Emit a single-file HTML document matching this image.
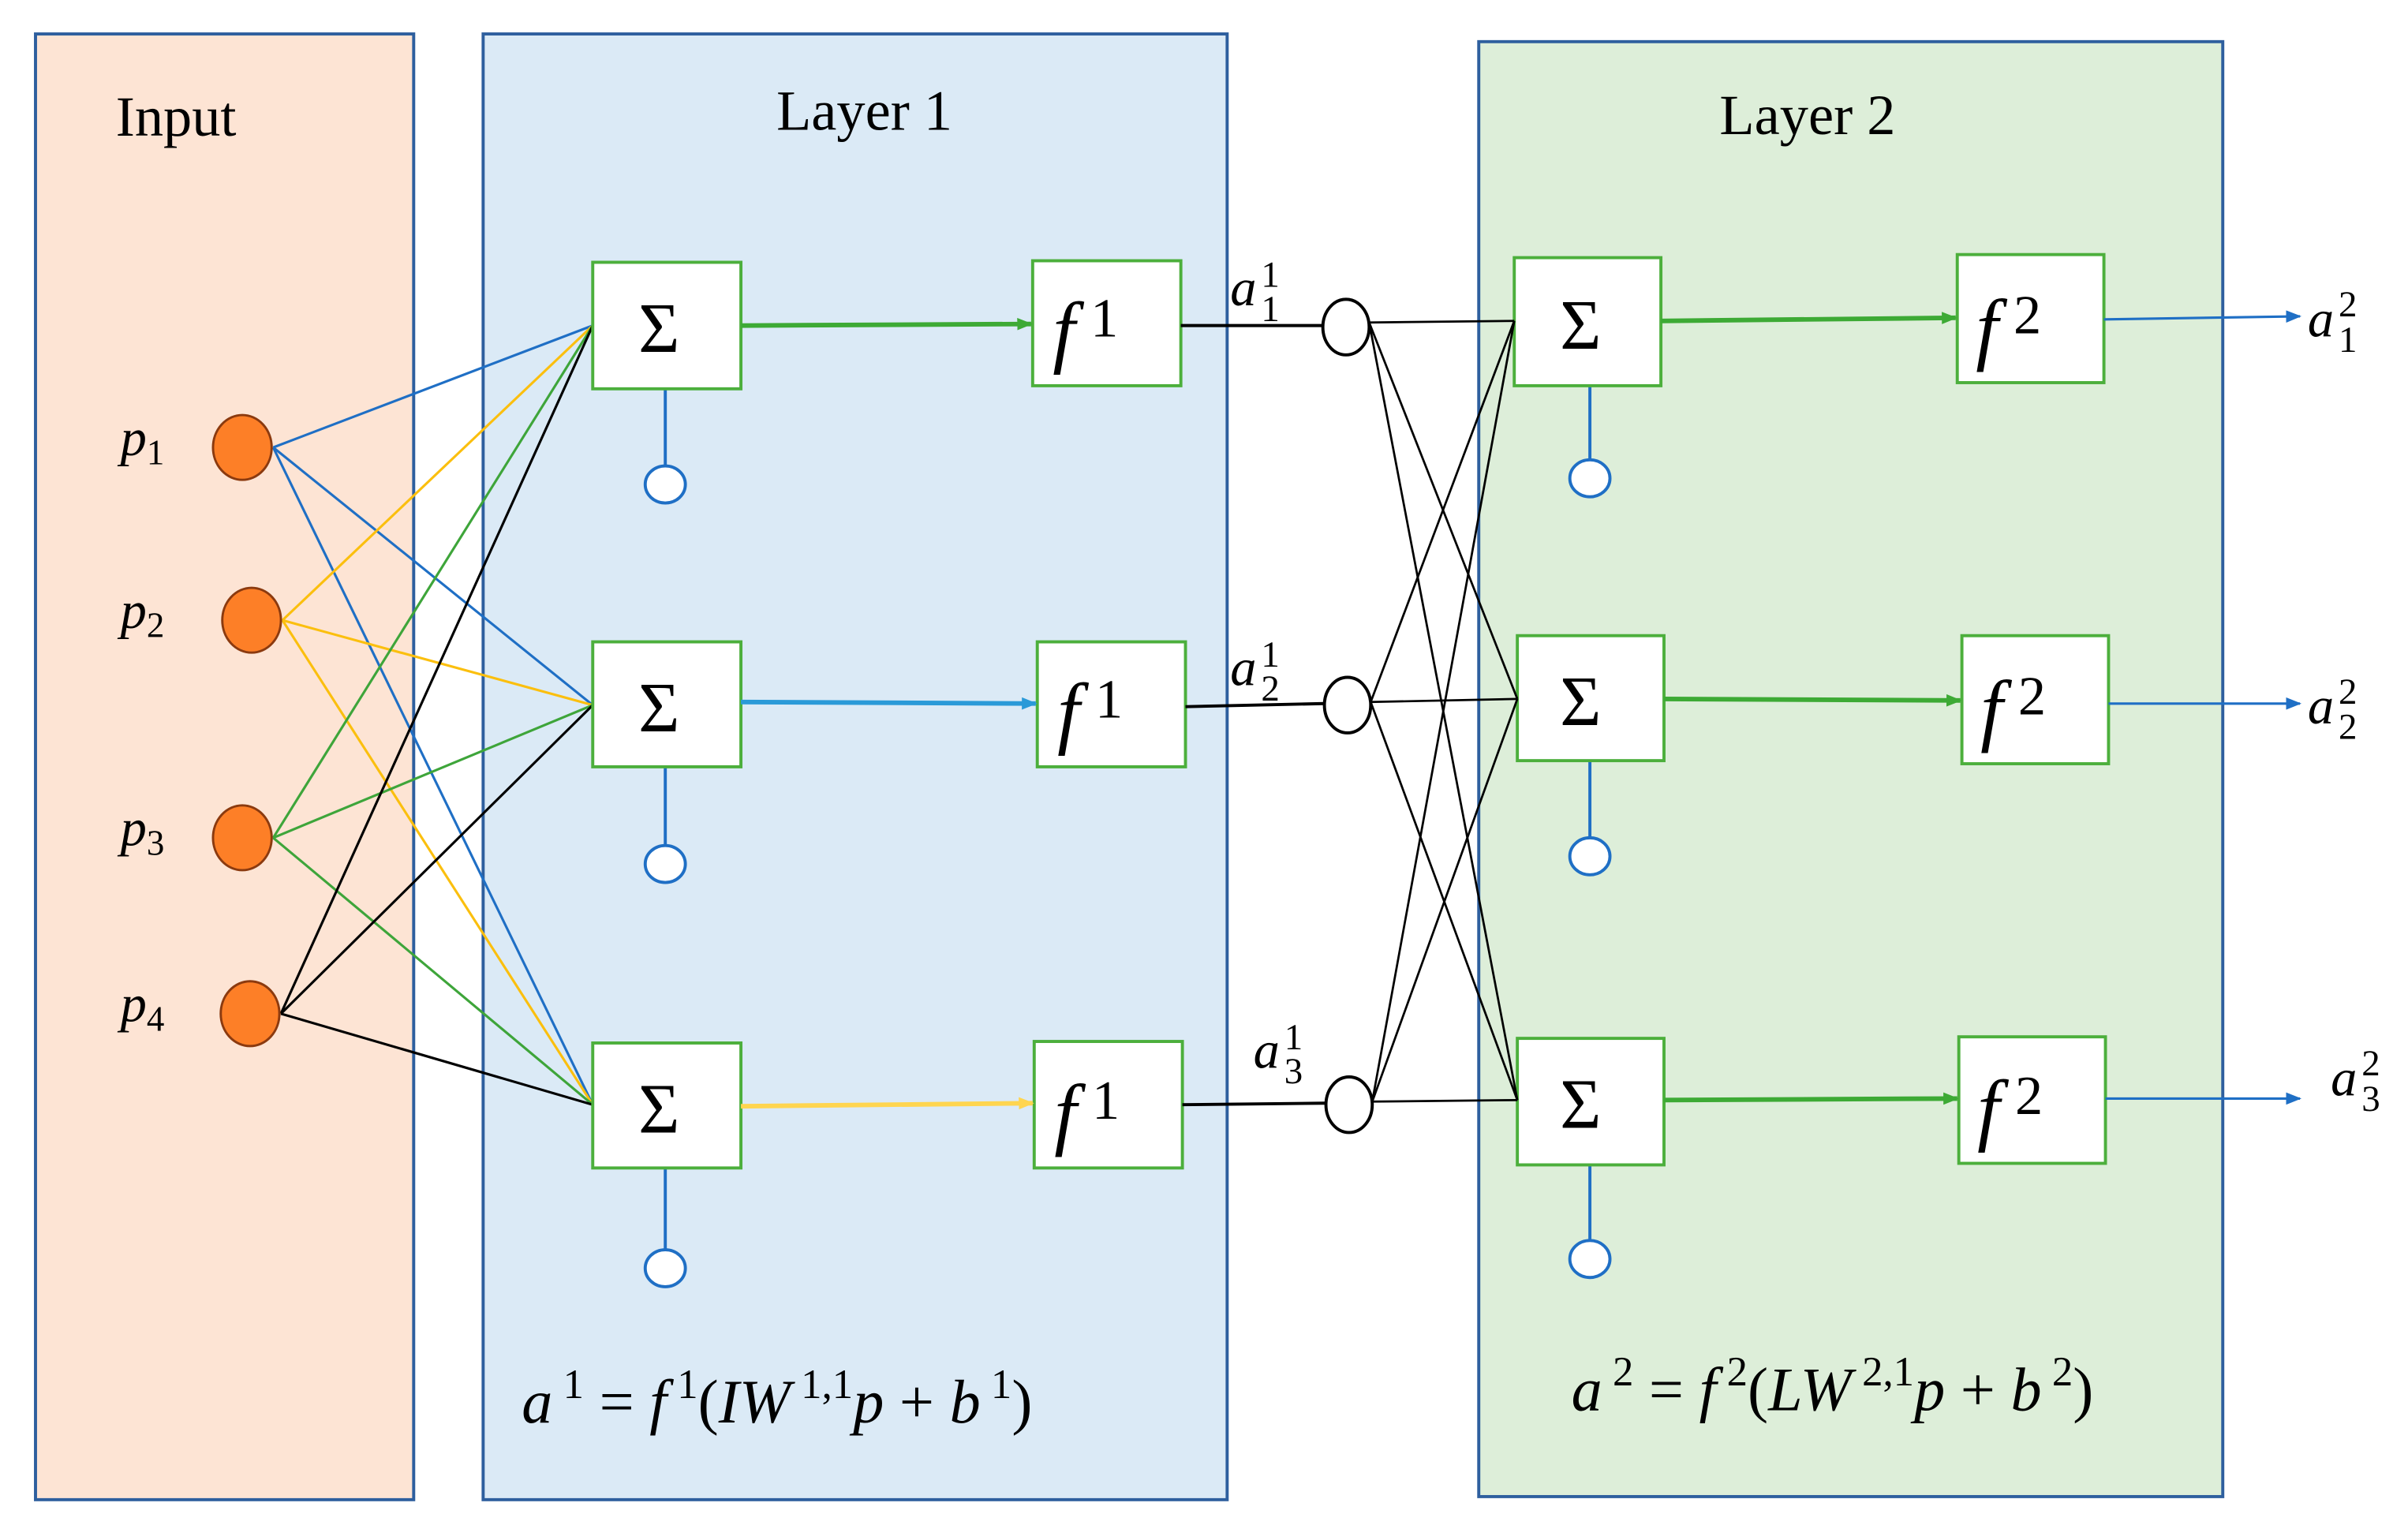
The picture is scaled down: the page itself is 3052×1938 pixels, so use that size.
<!DOCTYPE html>
<html><head><meta charset="utf-8"><style>
html,body{margin:0;padding:0;background:#fff}
svg{display:block}
text{font-family:"Liberation Serif",serif}
.it{font-style:italic}
</style></head><body>
<svg width="3052" height="1938" viewBox="0 0 1560 991" preserveAspectRatio="none" xmlns="http://www.w3.org/2000/svg">
<defs>
<marker id="ag" markerWidth="10" markerHeight="8" refX="9" refY="4" orient="auto" markerUnits="userSpaceOnUse"><path d="M0,0 L10,4 L0,8 z" fill="#3daa35"/></marker>
<marker id="ab" markerWidth="10" markerHeight="8" refX="9" refY="4" orient="auto" markerUnits="userSpaceOnUse"><path d="M0,0 L10,4 L0,8 z" fill="#2a9ad8"/></marker>
<marker id="ay" markerWidth="10" markerHeight="8" refX="9" refY="4" orient="auto" markerUnits="userSpaceOnUse"><path d="M0,0 L10,4 L0,8 z" fill="#ffd54f"/></marker>
<marker id="ao" markerWidth="10" markerHeight="8" refX="9" refY="4" orient="auto" markerUnits="userSpaceOnUse"><path d="M0,0 L10,4 L0,8 z" fill="#1f6fc5"/></marker>
</defs>
<rect x="23" y="22" width="245" height="950" fill="#fde4d4" stroke="#2e5f9e" stroke-width="2"/>
<rect x="313" y="22" width="482" height="950" fill="#dbeaf6" stroke="#2e5f9e" stroke-width="2"/>
<rect x="958" y="27" width="482" height="943" fill="#ddeed9" stroke="#2e5f9e" stroke-width="2"/>
<text x="75" y="88" font-size="37">Input</text>
<text x="503" y="84" font-size="37">Layer 1</text>
<text x="1114" y="87" font-size="37">Layer 2</text>

<g stroke-width="1.6" fill="none">
<g stroke="#1f6fc5"><line x1="177" y1="290" x2="384" y2="211"/><line x1="177" y1="290" x2="384" y2="457"/><line x1="177" y1="290" x2="384" y2="716"/></g>
<g stroke="#fbbf0e"><line x1="183" y1="402" x2="384" y2="211"/><line x1="183" y1="402" x2="384" y2="457"/><line x1="183" y1="402" x2="384" y2="716"/></g>
<g stroke="#3ea53a"><line x1="177" y1="543" x2="384" y2="211"/><line x1="177" y1="543" x2="384" y2="457"/><line x1="177" y1="543" x2="384" y2="716"/></g>
<g stroke="#000"><line x1="182" y1="657" x2="384" y2="211"/><line x1="182" y1="657" x2="384" y2="457"/><line x1="182" y1="657" x2="384" y2="716"/></g>
</g>
<g fill="#fd7f27" stroke="#8b3a0f" stroke-width="1.5">
<ellipse cx="157" cy="290" rx="19" ry="21"/><ellipse cx="163" cy="402" rx="19" ry="21"/><ellipse cx="157" cy="543" rx="19" ry="21"/><ellipse cx="162" cy="657" rx="19" ry="21"/>
</g>
<g font-size="34">
<text x="78" y="295"><tspan class="it">p</tspan><tspan font-size="23" dy="6">1</tspan></text>
<text x="78" y="407"><tspan class="it">p</tspan><tspan font-size="23" dy="6">2</tspan></text>
<text x="78" y="548"><tspan class="it">p</tspan><tspan font-size="23" dy="6">3</tspan></text>
<text x="78" y="662"><tspan class="it">p</tspan><tspan font-size="23" dy="6">4</tspan></text>
</g>

<g stroke="#1f6fc5" stroke-width="2" fill="#fff">
<line x1="431" y1="252" x2="431" y2="302"/><ellipse cx="431" cy="314" rx="13" ry="12"/>
<line x1="431" y1="497" x2="431" y2="548"/><ellipse cx="431" cy="560" rx="13" ry="12"/>
<line x1="431" y1="757" x2="431" y2="810"/><ellipse cx="431" cy="822" rx="13" ry="12"/>
<line x1="1030" y1="250" x2="1030" y2="298"/><ellipse cx="1030" cy="310" rx="13" ry="12"/>
<line x1="1030" y1="493" x2="1030" y2="543"/><ellipse cx="1030" cy="555" rx="13" ry="12"/>
<line x1="1030" y1="755" x2="1030" y2="804"/><ellipse cx="1030" cy="816" rx="13" ry="12"/>
</g>

<g fill="#fff" stroke="#4caf3c" stroke-width="2">
<rect x="384" y="170" width="96" height="82"/><rect x="384" y="416" width="96" height="81"/><rect x="384" y="676" width="96" height="81"/>
<rect x="669" y="169" width="96" height="81"/><rect x="672" y="416" width="96" height="81"/><rect x="670" y="675" width="96" height="82"/>
<rect x="981" y="167" width="95" height="83"/><rect x="983" y="412" width="95" height="81"/><rect x="983" y="673" width="95" height="82"/>
<rect x="1268" y="165" width="95" height="83"/><rect x="1271" y="412" width="95" height="83"/><rect x="1269" y="672" width="95" height="82"/>
</g>
<g font-size="46" text-anchor="middle">
<text x="427" y="228">Σ</text><text x="427" y="474">Σ</text><text x="427" y="734">Σ</text>
<text x="1024" y="226">Σ</text><text x="1024" y="470">Σ</text><text x="1024" y="731">Σ</text>
</g>
<g font-size="52">
<text x="682" y="232"><tspan class="it">f</tspan><tspan font-size="36" dx="10" dy="-14">1</tspan></text>
<text x="685" y="479"><tspan class="it">f</tspan><tspan font-size="36" dx="10" dy="-14">1</tspan></text>
<text x="683" y="739"><tspan class="it">f</tspan><tspan font-size="36" dx="10" dy="-14">1</tspan></text>
<text x="1280" y="230"><tspan class="it">f</tspan><tspan font-size="36" dx="10" dy="-14">2</tspan></text>
<text x="1283" y="477"><tspan class="it">f</tspan><tspan font-size="36" dx="10" dy="-14">2</tspan></text>
<text x="1281" y="736"><tspan class="it">f</tspan><tspan font-size="36" dx="10" dy="-14">2</tspan></text>
</g>

<g stroke-width="3" fill="none">
<line x1="480" y1="211" x2="668" y2="210" stroke="#3daa35" marker-end="url(#ag)"/>
<line x1="480" y1="455" x2="671" y2="456" stroke="#2a9ad8" marker-end="url(#ab)"/>
<line x1="480" y1="717" x2="669" y2="715" stroke="#ffd54f" marker-end="url(#ay)"/>
<line x1="1076" y1="208" x2="1267" y2="206" stroke="#3daa35" marker-end="url(#ag)"/>
<line x1="1078" y1="453" x2="1270" y2="454" stroke="#3daa35" marker-end="url(#ag)"/>
<line x1="1078" y1="713" x2="1268" y2="712" stroke="#3daa35" marker-end="url(#ag)"/>
</g>
<g stroke="#1f6fc5" stroke-width="1.6">
<line x1="1363" y1="207" x2="1490" y2="205" marker-end="url(#ao)"/>
<line x1="1366" y1="456" x2="1490" y2="456" marker-end="url(#ao)"/>
<line x1="1364" y1="712" x2="1490" y2="712" marker-end="url(#ao)"/>
</g>

<g stroke="#000" stroke-width="2">
<line x1="765" y1="211" x2="857" y2="211"/><line x1="768" y1="458" x2="858" y2="456"/><line x1="766" y1="716" x2="859" y2="715"/>
</g>
<g stroke="#000" stroke-width="1.4">
<line x1="887" y1="209" x2="981" y2="208"/><line x1="887" y1="209" x2="983" y2="453"/><line x1="887" y1="209" x2="983" y2="713"/>
<line x1="888" y1="455" x2="981" y2="208"/><line x1="888" y1="455" x2="983" y2="453"/><line x1="888" y1="455" x2="983" y2="713"/>
<line x1="889" y1="714" x2="981" y2="208"/><line x1="889" y1="714" x2="983" y2="453"/><line x1="889" y1="714" x2="983" y2="713"/>
</g>
<g fill="#fff" stroke="#000" stroke-width="2">
<ellipse cx="872" cy="212" rx="15" ry="18"/><ellipse cx="873" cy="457" rx="15" ry="18"/><ellipse cx="874" cy="716" rx="15" ry="18"/>
</g>

<g font-size="34">
<text x="797" y="198" class="it">a</text><text x="817" y="186" font-size="24">1</text><text x="817" y="208" font-size="24">1</text>
<text x="797" y="444" class="it">a</text><text x="817" y="432" font-size="24">1</text><text x="817" y="454" font-size="24">2</text>
<text x="812" y="692" class="it">a</text><text x="832" y="680" font-size="24">1</text><text x="832" y="702" font-size="24">3</text>
<text x="1495" y="218" class="it">a</text><text x="1515" y="205" font-size="24">2</text><text x="1515" y="228" font-size="24">1</text>
<text x="1495" y="469" class="it">a</text><text x="1515" y="456" font-size="24">2</text><text x="1515" y="479" font-size="24">2</text>
<text x="1510" y="710" class="it">a</text><text x="1530" y="697" font-size="24">2</text><text x="1530" y="720" font-size="24">3</text>
</g>

<text x="338" y="922" font-size="40"><tspan class="it">a</tspan><tspan font-size="27" dy="-16"> 1</tspan><tspan dy="16">  =  </tspan><tspan class="it">f</tspan><tspan font-size="27" dy="-16"> 1</tspan><tspan dy="16">(</tspan><tspan class="it">IW</tspan><tspan font-size="27" dy="-16"> 1,1</tspan><tspan class="it" dy="16">p</tspan><tspan>  +  </tspan><tspan class="it">b</tspan><tspan font-size="27" dy="-16"> 1</tspan><tspan dy="16">)</tspan></text>
<text x="1018" y="914" font-size="40"><tspan class="it">a</tspan><tspan font-size="27" dy="-16"> 2</tspan><tspan dy="16">  =  </tspan><tspan class="it">f</tspan><tspan font-size="27" dy="-16"> 2</tspan><tspan dy="16">(</tspan><tspan class="it">LW</tspan><tspan font-size="27" dy="-16"> 2,1</tspan><tspan class="it" dy="16">p</tspan><tspan>  +  </tspan><tspan class="it">b</tspan><tspan font-size="27" dy="-16"> 2</tspan><tspan dy="16">)</tspan></text>
</svg>
</body></html>
